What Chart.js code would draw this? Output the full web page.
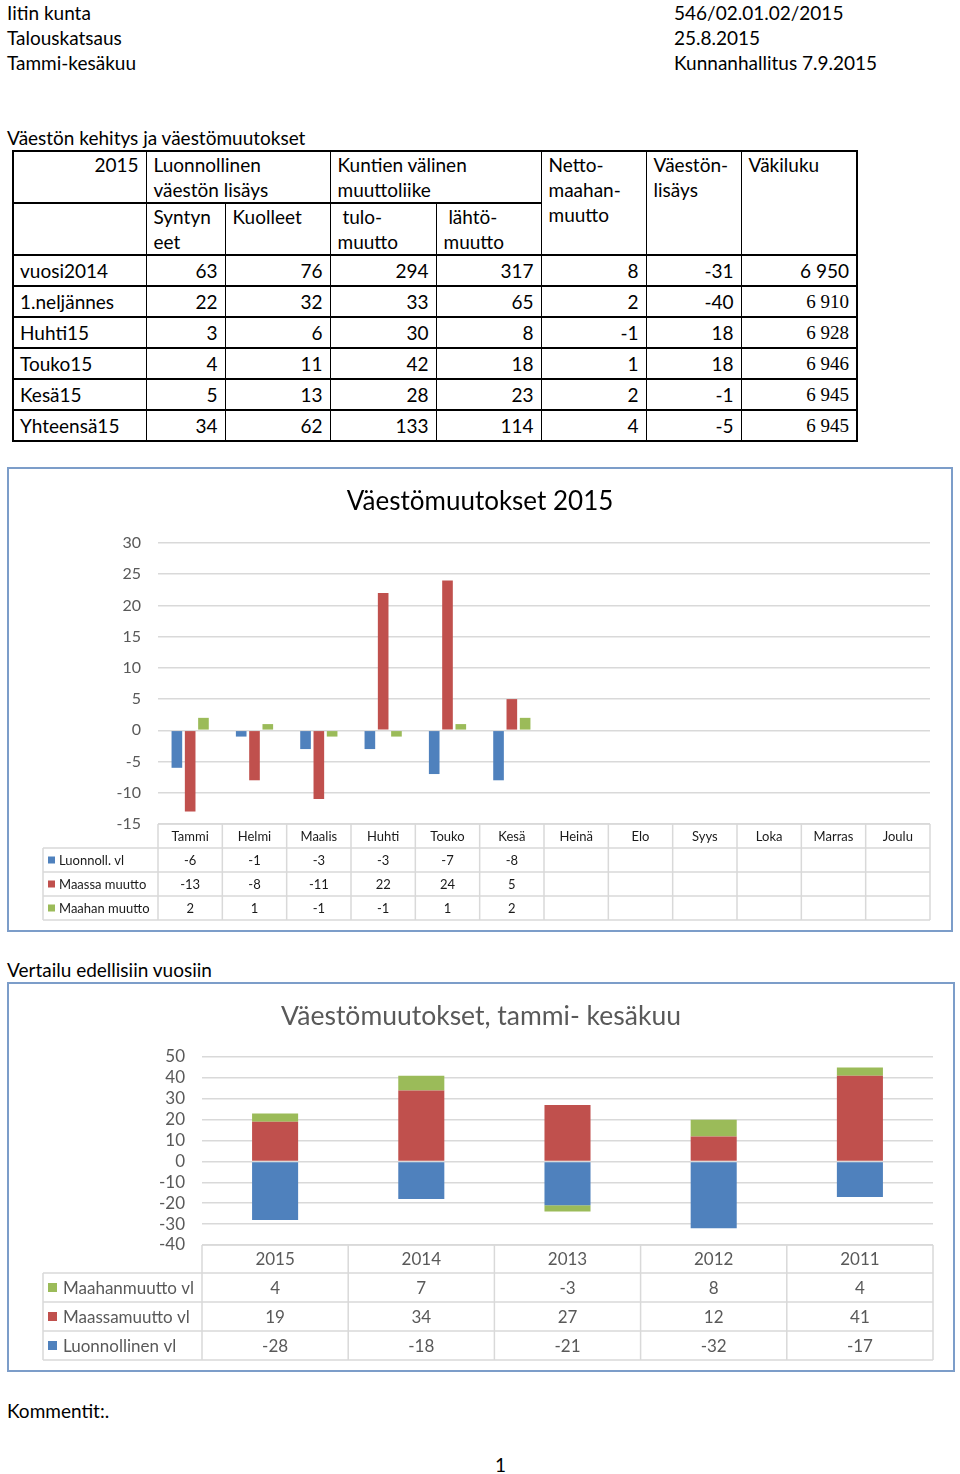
<!DOCTYPE html>
<html>
<head>
<meta charset="utf-8">
<script src="https://cdn.jsdelivr.net/npm/chart.js@4.4.1/dist/chart.umd.min.js"></script>
<style>
  html, body { margin: 0; padding: 0; background: #fff; }
  body { width: 960px; height: 1474px; position: relative; font-family: Lato, "Open Sans", sans-serif; color: #000; overflow: hidden; }
  .t { position: absolute; font-size: 19px; line-height: 25px; white-space: nowrap; }
  table.pop { position: absolute; left: 12px; top: 150px; width: 844px; border-collapse: collapse; table-layout: fixed; font-size: 19px; }
  table.pop td { border-left: 1px solid #000; border-right: 1px solid #000; border-top: 2px solid #000; border-bottom: 2px solid #000; padding: 0 7px; line-height: 25px; vertical-align: top; }
  table.pop tr.d td { height: 29px; vertical-align: middle; text-align: right; }
  table.pop tr.d td:first-child { text-align: left; padding-left: 6px; }
  table.pop td.edge { border-left: 2px solid #000; }
  table.pop td.last { border-right: 2px solid #000; }
  .serif { font-family: "Liberation Serif", serif; }
  .box { position: absolute; border: 2px solid #7c9dc9; background: #fff; }
  .box canvas { display: block; }
</style>
</head>
<body>
<div class="t" style="left:7px;top:0px">Iitin kunta</div>
<div class="t" style="left:7px;top:25px">Talouskatsaus</div>
<div class="t" style="left:7px;top:50px">Tammi-kesäkuu</div>
<div class="t" style="left:674px;top:0px">546/02.01.02/2015</div>
<div class="t" style="left:674px;top:25px">25.8.2015</div>
<div class="t" style="left:674px;top:50px">Kunnanhallitus 7.9.2015</div>
<div class="t" style="left:7px;top:125px">Väestön kehitys ja väestömuutokset</div>

<table class="pop">
  <colgroup>
    <col style="width:133px"><col style="width:79px"><col style="width:105px"><col style="width:106px">
    <col style="width:105px"><col style="width:105px"><col style="width:95px"><col style="width:116px">
  </colgroup>
  <tr style="height:49px">
    <td class="edge" style="text-align:right">2015</td>
    <td colspan="2">Luonnollinen<br>väestön lisäys</td>
    <td colspan="2">Kuntien välinen<br>muuttoliike</td>
    <td rowspan="2">Netto-<br>maahan-<br>muutto</td>
    <td rowspan="2">Väestön-<br>lisäys</td>
    <td rowspan="2" class="last">Väkiluku</td>
  </tr>
  <tr style="height:51px">
    <td class="edge"></td>
    <td>Syntyn<br>eet</td>
    <td>Kuolleet</td>
    <td>&nbsp;tulo-<br>muutto</td>
    <td>&nbsp;lähtö-<br>muutto</td>
  </tr>
  <tr class="d"><td class="edge">vuosi2014</td><td>63</td><td>76</td><td>294</td><td>317</td><td>8</td><td>-31</td><td class="last">6 950</td></tr>
  <tr class="d"><td class="edge">1.neljännes</td><td>22</td><td>32</td><td>33</td><td>65</td><td>2</td><td>-40</td><td class="last serif">6 910</td></tr>
  <tr class="d"><td class="edge">Huhti15</td><td>3</td><td>6</td><td>30</td><td>8</td><td>-1</td><td>18</td><td class="last serif">6 928</td></tr>
  <tr class="d"><td class="edge">Touko15</td><td>4</td><td>11</td><td>42</td><td>18</td><td>1</td><td>18</td><td class="last serif">6 946</td></tr>
  <tr class="d"><td class="edge">Kesä15</td><td>5</td><td>13</td><td>28</td><td>23</td><td>2</td><td>-1</td><td class="last serif">6 945</td></tr>
  <tr class="d"><td class="edge">Yhteensä15</td><td>34</td><td>62</td><td>133</td><td>114</td><td>4</td><td>-5</td><td class="last serif">6 945</td></tr>
</table>

<div class="box" style="left:7px;top:467px"><canvas id="c1" width="942" height="461"></canvas></div>

<div class="t" style="left:7px;top:957px">Vertailu edellisiin vuosiin</div>

<div class="box" style="left:7px;top:982px"><canvas id="c2" width="944" height="386"></canvas></div>

<div class="t" style="left:7px;top:1398px">Kommentit:.</div>
<div class="t" style="left:495px;top:1452px">1</div>

<script>
// chart 1: monthly changes 2015
const months = ['Tammi','Helmi','Maalis','Huhti','Touko','Kesä','Heinä','Elo','Syys','Loka','Marras','Joulu'];
const luonnollVl = [-6, -1, -3, -3, -7, -8, null, null, null, null, null, null];
const maassaMuutto = [-13, -8, -11, 22, 24, 5, null, null, null, null, null, null];
const maahanMuutto = [2, 1, -1, -1, 1, 2, null, null, null, null, null, null];
const yMin1 = -15, yMax1 = 30, yStep1 = 5;

// chart 2: Jan-Jun comparison by year
const years = ['2015','2014','2013','2012','2011'];
const luonnollinenVl = [-28, -18, -21, -32, -17];
const maassamuuttoVl = [19, 34, 27, 12, 41];
const maahanmuuttoVl = [4, 7, -3, 8, 4];
const yMin2 = -40, yMax2 = 50, yStep2 = 10;

const BLUE = '#4F81BD', RED = '#C0504D', GREEN = '#9BBB59';
const GRID = '#d9d9d9';

Chart.defaults.font.family = 'Lato, "Open Sans", sans-serif';
Chart.defaults.animation = false;

// draws the Excel-style data table under the plot, using the x scale
const dataTable = {
  id: 'dataTable',
  afterDraw(chart, args, o){
    const {ctx, chartArea:a, scales:{x}} = chart;
    const n = chart.data.labels.length;
    const w = (a.right - a.left) / n;
    const top = a.bottom;
    const rows = o.order.map(i => chart.data.datasets[i]);
    const bottom = top + o.headH + rows.length * o.rowH;
    ctx.save();
    ctx.strokeStyle = GRID; ctx.lineWidth = 1.5;
    ctx.beginPath();
    ctx.moveTo(a.left, top); ctx.lineTo(a.right, top);
    for(let r=0; r<=rows.length; r++){
      const y = top + o.headH + r*o.rowH;
      ctx.moveTo(o.left, y); ctx.lineTo(a.right, y);
    }
    ctx.moveTo(o.left, top + o.headH); ctx.lineTo(o.left, bottom);
    for(let i=0; i<=n; i++){
      const px = i===n ? x.getPixelForValue(n-1) + w/2 : x.getPixelForValue(i) - w/2;
      ctx.moveTo(px, top); ctx.lineTo(px, bottom);
    }
    ctx.stroke();
    ctx.font = o.font; ctx.fillStyle = o.color;
    ctx.textAlign = 'center'; ctx.textBaseline = 'middle';
    chart.data.labels.forEach((l,i)=>ctx.fillText(l, x.getPixelForValue(i), top + o.headH/2 + 1));
    rows.forEach((ds,k)=>{
      const cy = top + o.headH + k*o.rowH + o.rowH/2 + 1;
      ds.data.forEach((v,i)=>{ if(v!=null) ctx.fillText(String(v), x.getPixelForValue(i), cy); });
      ctx.fillStyle = ds.backgroundColor;
      ctx.fillRect(o.left + o.swX, cy - o.sw/2 - 1, o.sw, o.sw);
      ctx.fillStyle = o.color; ctx.textAlign = 'left';
      ctx.fillText(ds.label, o.left + o.txtX, cy);
      ctx.textAlign = 'center';
    });
    ctx.restore();
  }
};

new Chart(document.getElementById('c1'), {
  type: 'bar',
  data: {
    labels: months,
    datasets: [
      {label:'Luonnoll. vl', data: luonnollVl, backgroundColor: BLUE},
      {label:'Maassa muutto', data: maassaMuutto, backgroundColor: RED},
      {label:'Maahan muutto', data: maahanMuutto, backgroundColor: GREEN}
    ]
  },
  options: {
    responsive: false, devicePixelRatio: 1,
    categoryPercentage: 0.62, barPercentage: 0.8,
    layout: {padding: {left: 21, right: 21, top: 0, bottom: 106}},
    plugins: {
      legend: {display: false}, tooltip: {enabled: false},
      title: {display: true, text: 'Väestömuutokset 2015', color: '#000',
        font: {size: 26, weight: 'normal'}, padding: {top: 17.4, bottom: 25.4}},
      dataTable: {order: [0,1,2], left: 34, headH: 24, rowH: 24, font: '13px Lato, sans-serif', color: '#1a1a1a', swX: 5, sw: 7, txtX: 16}
    },
    scales: {
      x: {display: false},
      y: {
        min: yMin1, max: yMax1,
        afterFit: s => { s.width = 128; },
        border: {display: false},
        grid: {color: GRID, lineWidth: 1.5, drawTicks: false},
        ticks: {stepSize: yStep1, autoSkip: false, padding: 17, color: '#595959', font: {size: 16}}
      }
    }
  },
  plugins: [dataTable]
});

new Chart(document.getElementById('c2'), {
  type: 'bar',
  data: {
    labels: years,
    datasets: [
      {label:'Luonnollinen vl', data: luonnollinenVl, backgroundColor: BLUE},
      {label:'Maassamuutto vl', data: maassamuuttoVl, backgroundColor: RED},
      {label:'Maahanmuutto vl', data: maahanmuuttoVl, backgroundColor: GREEN}
    ]
  },
  options: {
    responsive: false, devicePixelRatio: 1,
    categoryPercentage: 0.315, barPercentage: 1,
    layout: {padding: {left: 20, right: 20, top: 0, bottom: 125}},
    plugins: {
      legend: {display: false}, tooltip: {enabled: false},
      title: {display: true, text: 'Väestömuutokset, tammi- kesäkuu', color: '#595959',
        font: {size: 26.5, weight: 'normal'}, padding: {top: 16.1, bottom: 25.1}},
      dataTable: {order: [2,1,0], left: 34, headH: 28, rowH: 29, font: '17px Lato, sans-serif', color: '#595959', swX: 5, sw: 9, txtX: 20}
    },
    scales: {
      x: {display: false, stacked: true},
      y: {
        stacked: true,
        min: yMin2, max: yMax2,
        afterFit: s => { s.width = 173; },
        border: {display: false},
        grid: {color: GRID, lineWidth: 1.5, drawTicks: false},
        ticks: {stepSize: yStep2, autoSkip: false, padding: 17, color: '#595959', font: {size: 17}}
      }
    }
  },
  plugins: [dataTable]
});
</script>
</body>
</html>
